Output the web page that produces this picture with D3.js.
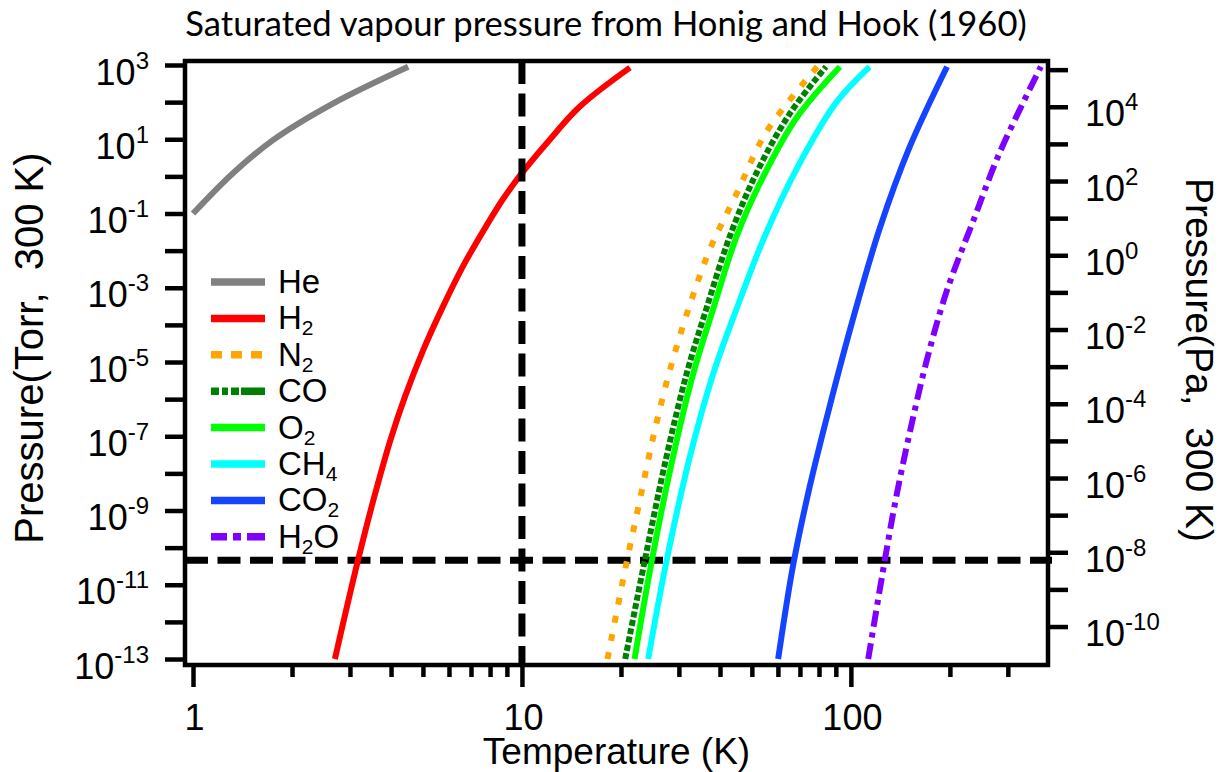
<!DOCTYPE html>
<html>
<head>
<meta charset="utf-8">
<script src="https://cdn.jsdelivr.net/npm/d3@7"></script>
<style>
  body { margin: 0; background: #fff; }
  svg { display: block; }
  .lab { font-family: "Liberation Sans", Arial, Helvetica, sans-serif; fill: #000; }
</style>
</head>
<body>
<svg id="chart" width="1222" height="772"></svg>
<script>
// Saturated vapour pressure (Torr) against temperature (K), Honig and Hook (1960)
const gasNames  = ["He", "H2", "N2", "CO", "O2", "CH4", "CO2", "H2O"];
const gasColors = ["#808080", "#ff0000", "#ffa500", "#008000", "#00ff00", "#00ffff", "#1444ff", "#7f00ff"];

const heT  = [1, 1.32, 1.75, 2.67, 4.51];
const heP  = [0.1, 1.2, 9.5, 93, 900];

const h2T  = [2.7, 3.16, 3.55, 3.98, 4.41, 5.01, 5.77, 6.64, 7.81, 8.77, 9.98, 11.89, 15.0, 21.3];
const h2P  = [1e-13, 3.9e-11, 2.2e-9, 7.8e-8, 1.17e-6, 2.1e-5, 3.3e-4, 4e-3, 4.8e-2, 0.25, 1.2, 7.8, 76, 850];

const n2T  = [18.2, 20.8, 22.6, 25.1, 28.2, 32.4, 37.3, 45.0, 55.4, 79];
const n2P  = [1e-13, 4e-11, 1.26e-9, 1e-7, 6.3e-6, 3.5e-4, 1.1e-2, 0.35, 16, 900];

const coT  = [20.6, 23.6, 27.5, 31.7, 36.4, 42.9, 51.7, 65.2, 84];
const coP  = [1e-13, 4.3e-11, 2.8e-8, 5e-6, 2.8e-4, 2.5e-2, 1.26, 49, 900];

const o2T  = [22.0, 24.8, 28.8, 33.2, 38.2, 45.0, 54.2, 68.4, 92.6];
const o2P  = [1e-13, 4.3e-11, 2.8e-8, 5e-6, 2.8e-4, 2.5e-2, 1.0, 38, 900];

const ch4T = [24.2, 27.5, 32.4, 38.2, 45.0, 54.2, 68.4, 90.4, 114];
const ch4P = [1e-13, 4.3e-11, 2.8e-8, 5e-6, 2.8e-4, 2e-2, 1.6, 100, 900];

const co2T = [60.1, 66.8, 75.0, 86.4, 101.6, 122.4, 151, 196];
const co2P = [1e-13, 3.5e-11, 4.5e-9, 7e-7, 1.5e-4, 4e-2, 6.3, 900];

const h2oT = [112.9, 126.9, 137.6, 151.1, 169.8, 195.4, 235.4, 283.8, 378];
const h2oP = [1e-13, 4.8e-11, 2.5e-9, 1.3e-7, 1.05e-5, 7.9e-4, 6.3e-2, 4.5, 900];

// reference lines: 10 K and the pressure limit
const refTemperature = 10;
const refPressure = 4.6e-11;

// axis ticks
const torrExponents = d3.range(-13, 4);          // 1e-13 .. 1e3 Torr
const paExponents   = d3.range(-10, 6);          // 1e-10 .. 1e5 Pa
const tempMajor = [1, 10, 100];
const tempMinor = [2, 3, 4, 5, 6, 7, 8, 9, 20, 30, 40, 50, 60, 70, 80, 90, 200, 300];
const TORR_TO_PA = 133.322;

const seriesT = [heT, h2T, n2T, coT, o2T, ch4T, co2T, h2oT];
const seriesP = [heP, h2P, n2P, coP, o2P, ch4P, co2P, h2oP];

// ---- layout ----
const svg = d3.select("#chart");
const box = { left: 185, right: 1048, top: 61, bottom: 665 };

const x = d3.scaleLog().domain([0.9455, 397.4]).range([box.left, box.right]);
const y = d3.scaleLog().domain([6.9e-14, 1282]).range([box.bottom, box.top]);
const yPa = d3.scaleLog()
  .domain(y.domain().map(v => v * TORR_TO_PA))
  .range(y.range());

const curveDash  = { N2: "7,11.5", CO: "6,2.5", H2O: "16,6,5,6" };
const legendDash = { N2: "11,9", CO: "8,3,6,3,8,2,30", H2O: "16,6,8,6,20" };

// ---- title ----
const title = svg.append("text")
  .attr("x", 606).attr("y", 36)
  .attr("text-anchor", "middle")
  .style("font-family", "Lato, 'Open Sans', sans-serif")
  .style("font-size", "32px")
  .attr("fill", "#000")
  .text("Saturated vapour pressure from Honig and Hook (1960)");
{
  const w = title.node().getComputedTextLength();
  title.style("font-size", (32 * 842 / w).toFixed(2) + "px");
}

// ---- reference line (horizontal, under the curves) ----
svg.append("line")
  .attr("x1", box.left).attr("x2", box.right + 4)
  .attr("y1", y(refPressure)).attr("y2", y(refPressure))
  .attr("stroke", "#000").attr("stroke-width", 7)
  .attr("stroke-dasharray", "23,9.5");

// ---- curves ----
const line = d3.line()
  .x(d => x(d[0]))
  .y(d => y(d[1]))
  .curve(d3.curveCatmullRom.alpha(0.5));

gasNames.forEach((name, i) => {
  const pts = seriesT[i].map((t, k) => [t, seriesP[i][k]]);
  svg.append("path")
    .attr("d", line(pts))
    .attr("fill", "none")
    .attr("stroke", gasColors[i])
    .attr("stroke-width", 6)
    .attr("stroke-dasharray", curveDash[name] || null);
});

// vertical reference line at 10 K
svg.append("line")
  .attr("x1", x(refTemperature)).attr("x2", x(refTemperature))
  .attr("y1", box.top).attr("y2", box.bottom)
  .attr("stroke", "#000").attr("stroke-width", 7)
  .attr("stroke-dasharray", "23,9.5");

// ---- frame ----
svg.append("rect")
  .attr("x", box.left).attr("y", box.top)
  .attr("width", box.right - box.left).attr("height", box.bottom - box.top)
  .attr("fill", "none").attr("stroke", "#000").attr("stroke-width", 4.5);

// ---- helpers for power-of-ten labels ----
function powLabel(sel, exp) {
  sel.append("tspan").text("10");
  sel.append("tspan").attr("dy", -16).style("font-size", "24px").text(exp);
}

function styleAxis(g) {
  g.select(".domain").remove();
  g.selectAll(".tick line").attr("stroke", "#000").attr("stroke-width", 4.5);
  g.selectAll(".tick text").remove();
}

// left axis (Torr)
const gLeft = svg.append("g")
  .attr("transform", `translate(${box.left},0)`)
  .call(d3.axisLeft(y).tickValues(torrExponents.map(e => Math.pow(10, e)))
    .tickSize(20).tickSizeOuter(0).tickFormat(""))
  .call(styleAxis);
gLeft.selectAll(".tick").each(function (d) {
  const e = Math.round(Math.log10(d));
  if (Math.abs(e) % 2 === 1) {
    const t = d3.select(this).append("text")
      .attr("class", "lab").attr("x", -36).attr("y", 19)
      .attr("text-anchor", "end").style("font-size", "36px");
    powLabel(t, String(e));
  }
});

// right axis (Pa)
const gRight = svg.append("g")
  .attr("transform", `translate(${box.right},0)`)
  .call(d3.axisRight(yPa).tickValues(paExponents.map(e => Math.pow(10, e)))
    .tickSize(20).tickSizeOuter(0).tickFormat(""))
  .call(styleAxis);
gRight.selectAll(".tick").each(function (d) {
  const e = Math.round(Math.log10(d));
  if (e % 2 === 0) {
    const t = d3.select(this).append("text")
      .attr("class", "lab").attr("x", 37).attr("y", 19)
      .attr("text-anchor", "start").style("font-size", "36px");
    powLabel(t, String(e));
  }
});

// bottom axis (temperature)
svg.append("g")
  .attr("transform", `translate(0,${box.bottom})`)
  .call(d3.axisBottom(x).tickValues(tempMinor).tickSize(12).tickSizeOuter(0).tickFormat(""))
  .call(styleAxis);
const gBottom = svg.append("g")
  .attr("transform", `translate(0,${box.bottom})`)
  .call(d3.axisBottom(x).tickValues(tempMajor).tickSize(22).tickSizeOuter(0).tickFormat(""))
  .call(styleAxis);
gBottom.selectAll(".tick").append("text")
  .attr("class", "lab").attr("y", 65).attr("x", 1)
  .attr("text-anchor", "middle").style("font-size", "36px")
  .text(d => d3.format("d")(d));

// ---- axis titles ----
svg.append("text")
  .attr("class", "lab")
  .attr("x", (box.left + box.right) / 2).attr("y", 764)
  .attr("text-anchor", "middle").style("font-size", "37px")
  .text("Temperature (K)");

svg.append("text")
  .attr("class", "lab")
  .attr("transform", "translate(43,348) rotate(-90)")
  .attr("text-anchor", "middle").style("font-size", "40px")
  .attr("xml:space", "preserve")
  .text("Pressure(Torr,  300 K)");

svg.append("text")
  .attr("class", "lab")
  .attr("transform", "translate(1186,360) rotate(90)")
  .attr("text-anchor", "middle").style("font-size", "39px")
  .attr("xml:space", "preserve")
  .text("Pressure(Pa,  300 K)");

// ---- legend ----
const legend = svg.append("g");
gasNames.forEach((name, i) => {
  const row = legend.append("g")
    .attr("transform", `translate(211,${282 + i * 36.4})`);
  row.append("line")
    .attr("x1", 0).attr("x2", 54)
    .attr("stroke", gasColors[i]).attr("stroke-width", 7.5)
    .attr("stroke-dasharray", legendDash[name] || null);
  const t = row.append("text")
    .attr("class", "lab").attr("x", 67).attr("y", 11)
    .style("font-size", "33px");
  // digits in a formula are set as subscripts
  const parts = name.match(/[A-Za-z]+|\d+/g);
  let lowered = false;
  parts.forEach(p => {
    if (/\d/.test(p)) {
      t.append("tspan").attr("dy", 6).style("font-size", "21px").text(p);
      lowered = true;
    } else {
      t.append("tspan").attr("dy", lowered ? -6 : 0).text(p);
      lowered = false;
    }
  });
});
</script>
</body>
</html>
